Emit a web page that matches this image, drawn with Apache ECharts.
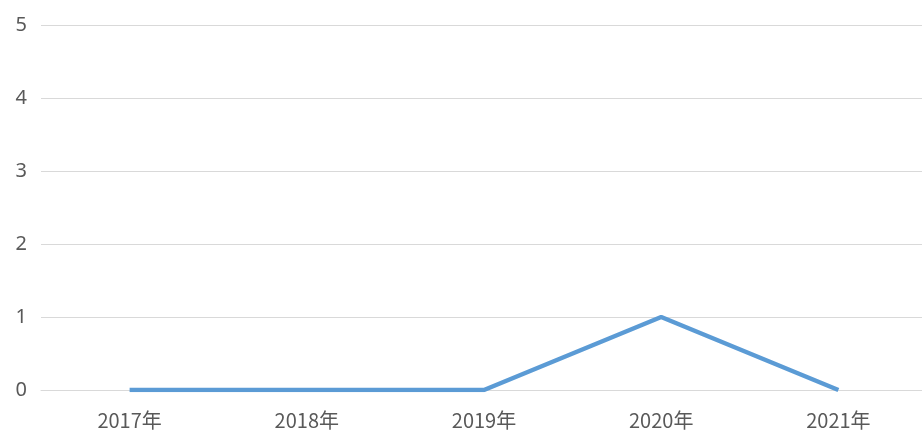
<!DOCTYPE html>
<html><head><meta charset="utf-8">
<script src="https://cdn.jsdelivr.net/npm/echarts@6/dist/echarts.min.js"></script>
<style>html,body{margin:0;padding:0;background:#fff;overflow:hidden;width:922px;height:432px}#c{width:927px;height:432px}</style>
</head><body><div id="c"></div>
<script>
const categories = ['2017年','2018年','2019年','2020年','2021年'];
const values = [0, 0, 0, 1, 0];
const chart = echarts.init(document.getElementById('c'));
chart.setOption({
  animation: false,
  grid: {left: 41, right: 0, top: 25, bottom: 42, containLabel: false},
  xAxis: {
    type: 'category', data: categories, boundaryGap: true,
    axisLine: {show: true, lineStyle: {color: '#d9d9d9', width: 1}},
    axisTick: {show: false},
    axisLabel: {color: '#595959', fontSize: 20, margin: 20, fontFamily: '"Noto Sans CJK SC", sans-serif'}
  },
  yAxis: {
    type: 'value', min: 0, max: 5, interval: 1,
    axisLine: {show: false}, axisTick: {show: false},
    splitLine: {lineStyle: {color: '#d9d9d9', width: 1}},
    axisLabel: {color: '#595959', fontSize: 20, margin: 14, fontFamily: '"Noto Sans", sans-serif'}
  },
  series: [{
    type: 'line', data: values, symbol: 'none',
    lineStyle: {color: '#5B9BD5', width: 4.5}
  }]
});
</script></body></html>
